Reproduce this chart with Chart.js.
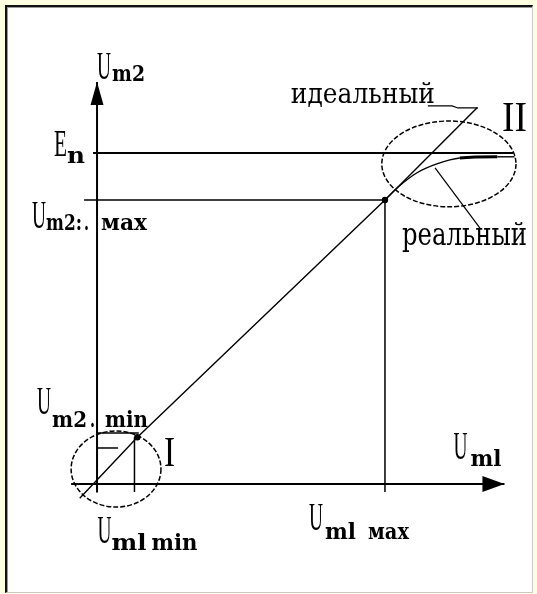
<!DOCTYPE html>
<html><head><meta charset="utf-8">
<script src="https://cdn.jsdelivr.net/npm/chart.js@4"></script>
<style>
html,body{margin:0;padding:0;background:#ffffe1;}
#wrap{position:relative;width:537px;height:594px;overflow:hidden;}
#frame{position:absolute;left:5px;top:5px;width:525px;height:585px;background:#fff;border-left:2px solid #111;border-top:2px solid #111;border-right:1px solid #c8c8c8;border-bottom:1px solid #c8c8c8;box-shadow:inset 1px 1px 0 #9a9a9a;}
canvas{position:absolute;left:0;top:0;}
</style></head>
<body>
<div id="wrap"><div id="frame"></div><canvas id="c" width="537" height="594"></canvas></div>
<script>
// ---- data (abstract units: Um1 horizontal, Um2 vertical) ----
const X_RANGE = [-3.37, 15.28];
const Y_RANGE = [-3.87, 17.04];

const um1Min = 1.3, um1Max = 10;
const um2Min = 1.8, um2Max = 10;
const En = 11.65;
const axisEnd = 14.15;

const idealX = [-0.6, 1.4, 10, 13.2];
const idealY = [-0.5, 1.65, 10, 13.25];
const realX = [10, 10.45, 11.1, 11.8, 12.6, 13.9, 14.5];
const realY = [10, 10.45, 10.95, 11.27, 11.48, 11.52, 11.52];

const zoneLabels = ['I', 'II'];
const zoneCx = [0.66, 12.22];
const zoneCy = [0.53, 11.27];
const zoneRx = [1.56, 2.33];
const zoneRy = [1.34, 1.51];

const idealLeaderX = [11.49, 12.33, 12.53, 13.23];
const idealLeaderY = [13.31, 13.31, 13.24, 13.24];
const realLeaderX = [11.74, 13.30];
const realLeaderY = [11.13, 9.01];

const curveNames = ['идеальный', 'реальный'];

// ---- build ----
const pts = (xs, ys) => xs.map((x, i) => ({x: x, y: ys[i]}));
const line = (data, w, extra) => Object.assign({data: data, showLine: true, borderColor: '#000', backgroundColor: '#000', borderWidth: w, pointRadius: 0, tension: 0}, extra || {});

const datasets = [
  line(pts([-0.9, axisEnd], [0, 0]), 2),
  line(pts([0, 0], [-0.3, axisEnd]), 2),
  line(pts([-0.14, 14.45], [En, En]), 2),
  line(pts([-0.45, um1Max], [um2Max, um2Max]), 1.5),
  line(pts([um1Max, um1Max], [um2Max, -0.28]), 1.5),
  line(pts([0, 1.45], [um2Min, um2Min]), 1.5),
  line(pts([um1Min, um1Min], [idealY[1], -0.28]), 1.5),
  line(pts([0, 0.73], [1.27, 1.27]), 1.5),
  line(pts(idealX, idealY), 1.4, {pointRadius: [0, 2.5, 2.5, 0]}),
  line(pts(realX, realY), 1.4, {cubicInterpolationMode: 'monotone', segment: {borderWidth: c => c.p0DataIndex === 4 ? 3 : 1.4}}),
  line(pts(idealLeaderX, idealLeaderY), 1.2),
  line(pts(realLeaderX, realLeaderY), 1.2)
];

// text drawn with a fixed width (horizontal scale) and vertical stretch
function txt(ctx, s, x, y, font, width, sy) {
  ctx.save();
  ctx.font = font;
  const w = ctx.measureText(s).width;
  ctx.translate(x, y);
  ctx.scale(width / w, sy);
  ctx.fillStyle = '#000';
  ctx.textBaseline = 'alphabetic';
  ctx.textAlign = 'left';
  ctx.fillText(s, 0, 0);
  ctx.restore();
}
const MAIN = '22px "Liberation Serif"';
const SUB = 'bold 20px "DejaVu Serif"';
const RU = '24px "DejaVu Serif"';
function U(ctx, x, y) { txt(ctx, 'U', x, y, MAIN, 14, 1.8); }
function sub(ctx, s, x, y, w) { txt(ctx, s, x, y, SUB, w, 1.1); }

const drawPlugin = {
  id: 'draw',
  afterDatasetsDraw(chart) {
    const ctx = chart.ctx;
    const sx = chart.scales.x, sy = chart.scales.y;
    const px = v => sx.getPixelForValue(v), py = v => sy.getPixelForValue(v);
    ctx.save();
    // ellipses
    ctx.strokeStyle = '#000';
    ctx.lineWidth = 1.5;
    ctx.setLineDash([5, 2]);
    for (let i = 0; i < zoneCx.length; i++) {
      const cx = px(zoneCx[i]), cy = py(zoneCy[i]);
      const rx = px(zoneCx[i] + zoneRx[i]) - cx, ry = cy - py(zoneCy[i] + zoneRy[i]);
      ctx.beginPath();
      ctx.ellipse(cx, cy, rx, ry, 0, 0, Math.PI * 2);
      ctx.stroke();
    }
    ctx.setLineDash([]);
    // arrowheads
    ctx.fillStyle = '#000';
    const ox = px(0), oy = py(0);
    const ty = py(axisEnd), tx = px(axisEnd);
    ctx.beginPath(); ctx.moveTo(ox, ty); ctx.lineTo(ox - 6.5, ty + 23); ctx.lineTo(ox + 6.5, ty + 23); ctx.closePath(); ctx.fill();
    ctx.beginPath(); ctx.moveTo(tx, oy); ctx.lineTo(tx - 22, oy - 8); ctx.lineTo(tx - 22, oy + 8); ctx.closePath(); ctx.fill();

    // axis labels
    U(ctx, ox + 0, ty - 3); sub(ctx, 'm2', ox + 15, ty - 1, 33);
    const eY = py(En);
    txt(ctx, 'E', ox - 43, eY + 3, MAIN, 13, 1.75); sub(ctx, 'n', ox - 30, eY + 10, 18);
    const mY = py(um2Max);
    U(ctx, ox - 65, mY + 28); sub(ctx, 'm2:', ox - 51, mY + 30, 36); sub(ctx, '.', ox - 13, mY + 30, 5); sub(ctx, 'мах', ox + 4, mY + 30, 46);
    const nY = py(um2Min);
    U(ctx, ox - 60, nY - 19); sub(ctx, 'm2', ox - 45, nY - 6, 35); sub(ctx, '.', ox - 7, nY - 6, 5); sub(ctx, 'min', ox + 8, nY - 6, 43);
    U(ctx, tx - 51, oy - 25); sub(ctx, 'ml', tx - 34, oy - 18, 31);
    const vX = px(um1Max);
    U(ctx, vX - 76, oy + 46); sub(ctx, 'ml', vX - 60, oy + 55, 31); sub(ctx, 'мах', vX - 17, oy + 55, 41);
    const wX = px(um1Min);
    U(ctx, wX - 37, oy + 59); sub(ctx, 'ml', wX - 23, oy + 66, 35); sub(ctx, 'min', wX + 17, oy + 66, 46);

    // curve names
    txt(ctx, curveNames[0], px(idealLeaderX[0]) - 137, py(idealLeaderY[0]) - 3, RU, 144, 1.2);
    txt(ctx, curveNames[1], px(realLeaderX[1]) - 78, py(realLeaderY[1]) + 17, RU, 125, 1.35);

    // zone labels
    const z0x = px(zoneCx[0] + zoneRx[0]), z0y = py(zoneCy[0]);
    txt(ctx, zoneLabels[0], z0x + 3, z0y - 3, MAIN, 11, 1.9);
    txt(ctx, zoneLabels[1], px(zoneCx[1]) + 53, py(zoneCy[1]) - 33, MAIN, 25, 1.9);
    ctx.restore();
  }
};

new Chart(document.getElementById('c'), {
  type: 'scatter',
  data: {datasets: datasets},
  options: {
    responsive: false,
    animation: false,
    devicePixelRatio: 1,
    layout: {padding: 0},
    plugins: {legend: {display: false}, tooltip: {enabled: false}},
    scales: {
      x: {type: 'linear', min: X_RANGE[0], max: X_RANGE[1], display: false},
      y: {type: 'linear', min: Y_RANGE[0], max: Y_RANGE[1], display: false}
    }
  },
  plugins: [drawPlugin]
});
</script>
</body></html>
